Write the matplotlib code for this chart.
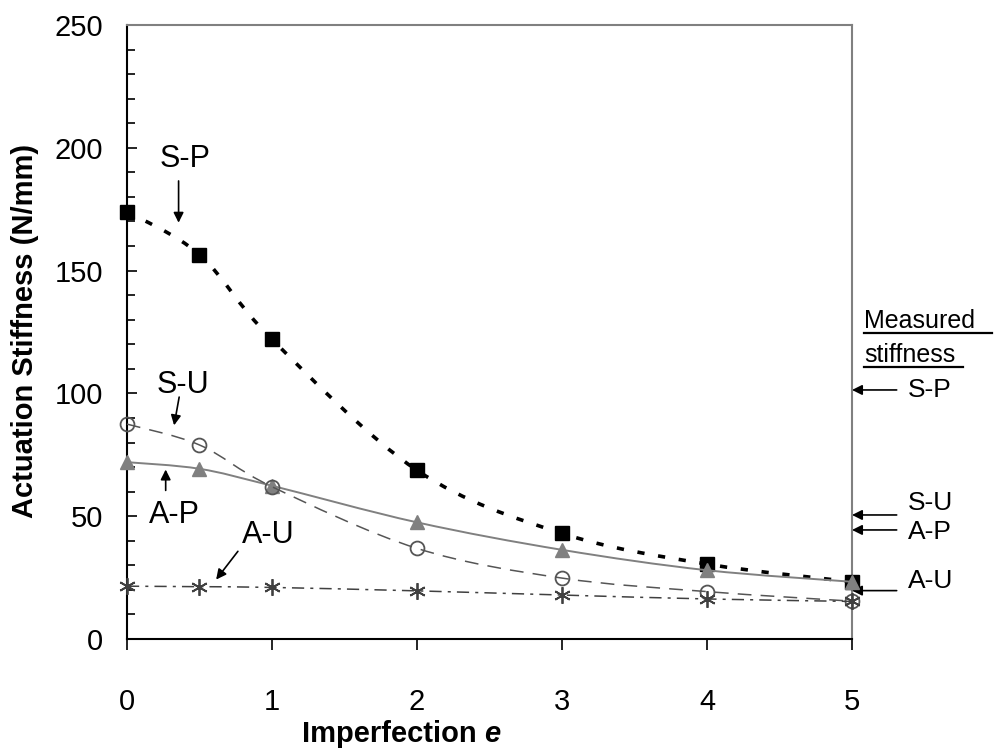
import numpy as np
import matplotlib
matplotlib.use("Agg")
import matplotlib.pyplot as plt
from matplotlib.path import Path
from matplotlib.patches import PathPatch

plt.rcParams['font.family'] = ['Liberation Sans', 'DejaVu Sans']

x = [0, 0.5, 1, 2, 3, 4, 5]
s_p = [174, 156.5, 122, 68.7, 43, 30.5, 23.3]
s_u = [87.5, 79, 62, 36.9, 24.8, 19.3, 15.4]
a_p = [72, 69.3, 62.4, 47.5, 36.3, 28, 23.3]
a_u = [21.5, 21.3, 21, 19.6, 17.9, 16.3, 15.3]

measured_labels = ['S-P', 'S-U', 'A-P', 'A-U']
measured_values = [101.4, 50.5, 44.4, 19.7]
measured_text_y = [101.4, 55.4, 43.6, 23.6]

fig = plt.figure(figsize=(9.95, 7.53), dpi=100)
ax = fig.add_axes([0.1276, 0.1514, 0.7287, 0.8154])
ax.set_xlim(0, 5)
ax.set_ylim(0, 250)


def smooth_path(xs, ys):
    p = np.column_stack([xs, ys]).astype(float)
    n = len(p)
    verts = [p[0]]
    codes = [Path.MOVETO]
    for i in range(n - 1):
        p0 = p[i - 1] if i > 0 else p[i]
        p3 = p[i + 2] if i + 2 < n else p[i + 1]
        c1 = p[i] + (p[i + 1] - p0) / 6.0
        c2 = p[i + 1] - (p3 - p[i]) / 6.0
        verts += [c1, c2, p[i + 1]]
        codes += [Path.CURVE4] * 3
    return Path(verts, codes)


def series(ys, color, lw, ls, marker, ms, mfc, mec, mew, z):
    patch = PathPatch(smooth_path(x, ys), fill=False, edgecolor=color,
                      lw=lw, linestyle=ls, zorder=z, clip_on=False)
    ax.add_patch(patch)
    ax.plot(x, ys, linestyle='none', marker=marker, ms=ms, mfc=mfc,
            mec=mec, mew=mew, zorder=z + 0.5, clip_on=False)


series(s_p, 'black', 2.6, (0, (2, 3.8)), 's', 10, 'black', 'black', 1, 3)
series(a_p, '#808080', 1.4, '-', '^', 10.5, '#808080', '#808080', 1, 4)
series(s_u, '#555555', 1.1, (0, (9, 6)), 'o', 10, 'none', '#555555', 1.3, 5)
series(a_u, '#404040', 1.1, (0, (8, 4, 2, 4)), (6, 2, 0), 12, '#404040', '#404040', 1.3, 6)

# spines
for s in ['left', 'bottom']:
    ax.spines[s].set_color('black')
    ax.spines[s].set_linewidth(1.5)
for s in ['top', 'right']:
    ax.spines[s].set_color('#808080')
    ax.spines[s].set_linewidth(1.5)

ax.set_xticks([0, 1, 2, 3, 4, 5])
ax.set_yticks([0, 50, 100, 150, 200, 250])
ax.set_yticks(np.arange(0, 251, 10), minor=True)
ax.tick_params(axis='x', direction='out', length=8, width=1.2, labelsize=21, pad=27)
ax.tick_params(axis='y', which='major', direction='in', length=7, width=1.2,
               labelsize=21, pad=17, right=False)
ax.tick_params(axis='y', which='minor', direction='in', length=6, width=1.2)
ax.tick_params(axis='x', which='minor', bottom=False)

ax.set_ylabel('Actuation Stiffness (N/mm)', fontsize=21, fontweight='bold')
ax.yaxis.set_label_coords(-0.122, 0.502)
fig.text(0.487, 0.0145, 'Imperfection ', fontsize=21, fontweight='bold', ha='right', va='baseline')
fig.text(0.487, 0.0145, 'e', fontsize=21, fontweight='bold', style='italic', ha='left', va='baseline')

arrow = dict(arrowstyle='-|>', color='black', lw=1.2, mutation_scale=15, shrinkA=0, shrinkB=0)

# in-plot labels
ax.text(0.40, 192.2, 'S-P', fontsize=22, ha='center', va='baseline')
ax.annotate('', xy=(0.356, 169.5), xytext=(0.356, 186.5), arrowprops=arrow)
ax.text(0.384, 100, 'S-U', fontsize=22, ha='center', va='baseline')
ax.annotate('', xy=(0.325, 87), xytext=(0.360, 98.5), arrowprops=arrow)
ax.text(0.324, 47.4, 'A-P', fontsize=22, ha='center', va='baseline')
ax.annotate('', xy=(0.267, 69), xytext=(0.267, 60.5), arrowprops=arrow)
ax.text(0.977, 39.0, 'A-U', fontsize=22, ha='center', va='baseline')
ax.annotate('', xy=(0.615, 24.2), xytext=(0.765, 35.7), arrowprops=arrow)

# measured stiffness (outside right)
ax.text(5.083, 126.6, 'Measured ', fontsize=18, ha='left', va='baseline', clip_on=False)
ax.text(5.083, 112.8, 'stiffness', fontsize=18, ha='left', va='baseline', clip_on=False)
ax.plot([5.083, 5.963], [124.5, 124.5], color='black', lw=1.6, clip_on=False)
ax.plot([5.083, 5.766], [110.9, 110.9], color='black', lw=1.6, clip_on=False)
for lab, val, ty in zip(measured_labels, measured_values, measured_text_y):
    ax.annotate('', xy=(5.0, val), xytext=(5.308, val), arrowprops=arrow,
                annotation_clip=False)
    ax.text(5.385, ty, lab, fontsize=19, ha='left', va='center', clip_on=False)

fig.savefig('out.png', dpi=100)
